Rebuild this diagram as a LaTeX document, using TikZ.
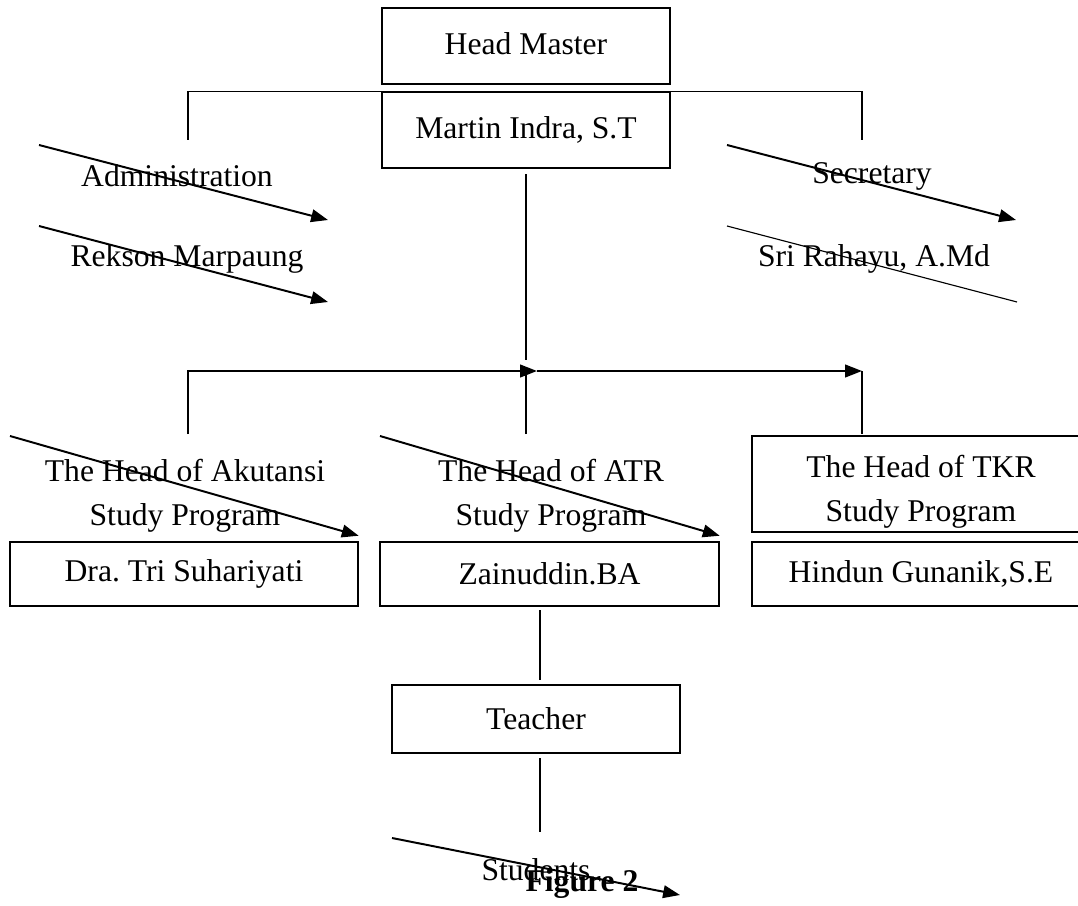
\documentclass[tikz,border=0pt]{standalone}
\usepackage{fontspec}
\setmainfont{Liberation Serif}
\usetikzlibrary{arrows.meta}
\tikzset{>={Triangle[length=12pt,width=9pt]}}

\begin{document}
\begin{tikzpicture}[x=0.025cm, y=-0.025cm,
  orgbox/.style={rectangle, draw, line width=0.9pt, inner sep=0pt, align=center,
    font=\fontsize{22.5}{31}\selectfont},
  lbl/.style={inner sep=0pt, align=center, font=\fontsize{22.5}{31}\selectfont},
  thinline/.style={line width=0.8pt},
  thickline/.style={line width=1.4pt},
  strike/.style={->, line width=1.4pt}
]
\useasboundingbox (0,0) rectangle (1078,906);

% ---------- Top ----------
\node[orgbox, minimum width=7.2cm, minimum height=1.9cm] (hm) at (526,46) {\raisebox{4pt}{Head Master}};
\node[orgbox, minimum width=7.2cm, minimum height=1.9cm] (mi) at (526,130) {\raisebox{4pt}{Martin Indra, S.T}};

\coordinate (admtop) at (188,140);
\coordinate (sectop) at (862,140);
\draw[thinline] (admtop) |- (mi.north) -| (sectop);

% ---------- Staff texts ----------
\node[lbl] (adm) at (177,176) {Administration};
\node[lbl] (rek) at (187,259) {Rekson Marpaung};
\node[lbl] (sec) at (872,176) {Secretary};
\node[lbl] (sri) at (874,259) {Sri Rahayu, A.Md};

\coordinate (adma) at (39,145);  \coordinate (admb) at (328,220);
\coordinate (reka) at (39,226);  \coordinate (rekb) at (328,302);
\coordinate (seca) at (727,145); \coordinate (secb) at (1016,220);
\coordinate (sria) at (727,226); \coordinate (srib) at (1017,302);
\draw[strike] (adma) -- (admb);
\draw[strike] (reka) -- (rekb);
\draw[strike] (seca) -- (secb);
\draw[thinline] (sria) -- (srib);

% ---------- Bus to study programs ----------
\coordinate (busjoint) at (526,360);
\coordinate (busmid) at (537,371);
\coordinate (busright) at (862,371);
\coordinate (akdrop) at (188,434);
\coordinate (atrdrop) at (526,434);
\coordinate (tkrdrop) at (862,434);
\draw[thinline, shorten <=4pt] (mi.south) -- (busjoint);
\draw[thickline, ->] (akdrop) |- (busmid);
\draw[thickline, ->] (busmid) -- (busright);
\draw[thickline] (busright) -- (tkrdrop);
\draw[thickline] (atrdrop) -- (atrdrop |- busmid);

% ---------- Study programs ----------
\node[lbl] (ak) at (185,496) {The Head of Akutansi\\Study Program};
\node[lbl] (atr) at (551,496) {The Head of ATR\\Study Program};
\node[orgbox, minimum width=8.45cm, minimum height=2.4cm] (tkr) at (921,484) {};
\node[lbl] (tkrtxt) at (921,492) {The Head of TKR\\Study Program};

\node[orgbox, minimum width=8.7cm, minimum height=1.6cm] (dra) at (184,574) {Dra.\ Tri Suhariyati};
\node[orgbox, minimum width=8.475cm, minimum height=1.6cm] (zai) at (549.5,574) {Zainuddin.BA};
\node[orgbox, minimum width=8.45cm, minimum height=1.6cm] (hin) at (921,574) {Hindun Gunanik,S.E};

\coordinate (aka) at (10,436);
\coordinate (atra) at (380,436);
\draw[strike] (aka) -- ([yshift=4]dra.north east);
\draw[strike] (atra) -- ([yshift=4]zai.north east);

% ---------- Teacher and students ----------
\node[orgbox, minimum width=7.2cm, minimum height=1.7cm] (tea) at (536,719) {Teacher};
\coordinate (zaib) at (540,610);
\coordinate (teat) at (540,680);
\coordinate (teab) at (540,758);
\coordinate (stut) at (540,832);
\draw[thinline] (zaib) -- (teat);
\draw[thinline] (teab) -- (stut);

\node[lbl] (stu) at (536,870) {Students};
\node[lbl, font=\fontsize{22.5}{31}\selectfont\bfseries] (fig) at (582,884) {Figure 2};
\coordinate (stua) at (392,838);
\coordinate (stub) at (680,895);
\draw[strike] (stua) -- (stub);

\end{tikzpicture}
\end{document}
